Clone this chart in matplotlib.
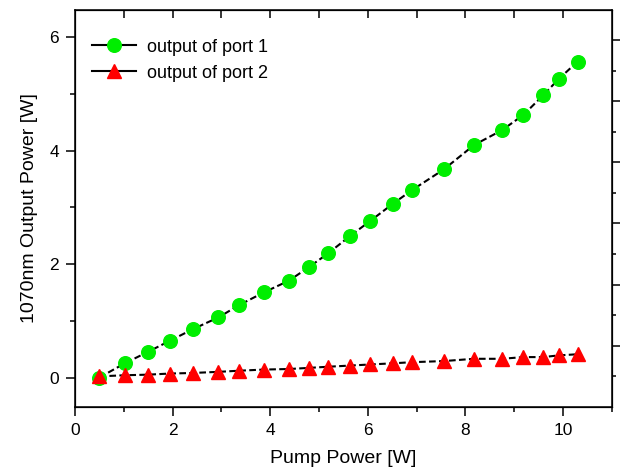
import numpy as np
import matplotlib
matplotlib.use("Agg")
import matplotlib.pyplot as plt

plt.rcParams['font.family'] = ['Liberation Sans', 'DejaVu Sans']

# pump power (W), same for both ports
pump = [0.50, 1.02, 1.49, 1.95, 2.41, 2.94, 3.37, 3.87, 4.39, 4.80, 5.19,
        5.63, 6.05, 6.51, 6.90, 7.56, 8.18, 8.75, 9.19, 9.60, 9.91, 10.30]
port1 = [0.00, 0.25, 0.45, 0.65, 0.85, 1.06, 1.28, 1.50, 1.71, 1.95, 2.19,
         2.49, 2.76, 3.06, 3.30, 3.67, 4.10, 4.36, 4.63, 4.98, 5.26, 5.57]
port2 = [0.02, 0.04, 0.05, 0.07, 0.08, 0.10, 0.12, 0.14, 0.15, 0.17, 0.19,
         0.21, 0.23, 0.25, 0.27, 0.29, 0.33, 0.33, 0.36, 0.36, 0.39, 0.41]
labels = ["output of port 1", "output of port 2"]

fig = plt.figure(figsize=(6.22, 4.69), dpi=100)
ax = fig.add_axes([75 / 622, 1 - 407 / 469, (611.7 - 75) / 622, (407 - 10) / 469])

dash = (0, (3.2, 1.6))
ax.plot(pump, port1, color='black', ls=dash, lw=1.5, zorder=2)
ax.plot(pump, port2, color='black', ls=dash, lw=1.5, zorder=2)
ax.plot(pump, port1, ls='none', marker='o', ms=9.8, mfc='#00ee00', mec='#00ee00', zorder=3)
ax.plot(pump, port2, ls='none', marker='^', ms=10.5, mfc='#ff0000', mec='#ff0000', zorder=4)

# legend handles: solid line + marker
h1, = ax.plot([], [], color='black', lw=1.5, marker='o', ms=9.8, mfc='#00ee00', mec='#00ee00')
h2, = ax.plot([], [], color='black', lw=1.5, marker='^', ms=10.5, mfc='#ff0000', mec='#ff0000')
ax.legend([h1, h2], labels, loc='upper left', bbox_to_anchor=(0.012, 0.955), frameon=False,
          fontsize=13, handlelength=2.4, handletextpad=0.65, labelspacing=0.5,
          borderaxespad=0.0, borderpad=0.6)

ax.set_xlim(0, 11)
ax.set_ylim(-0.52, 6.48)
ax.set_xticks(np.arange(0, 11, 2))
ax.set_xticks(np.arange(1, 12, 2), minor=True)
ax.set_yticks(np.arange(0, 7, 2))
ax.set_yticks(np.arange(1, 6, 2), minor=True)
ax.tick_params(which='major', direction='out', length=6.5, width=1.1, labelsize=12.5,
               top=False, right=False)
ax.tick_params(axis='y', which='major', pad=5)
ax.tick_params(axis='x', which='major', pad=5)
ax.tick_params(which='minor', direction='out', length=3.3, width=1.1, top=False, right=False)
ax.set_xlabel("Pump Power [W]", fontsize=14, labelpad=9)
ax.set_ylabel("1070nm Output Power [W]", fontsize=14, labelpad=8)
for s in ax.spines.values():
    s.set_linewidth(1.1)

# top axis: inward ticks every 1 W, no labels
axt = ax.twiny()
axt.set_xlim(0, 11)
axt.set_xticks(np.arange(1, 11, 1))
axt.tick_params(axis='x', direction='in', length=5.5, width=1.1, labeltop=False)

# right axis: unlabelled, outward ticks
axr = ax.twinx()
axr.set_ylim(-1.0, 5.49)
axr.set_yticks(np.arange(0, 6, 1))
axr.set_yticks(np.arange(-0.5, 5, 1), minor=True)
axr.tick_params(axis='y', which='major', direction='out', length=6, width=1.1, labelright=False)
axr.tick_params(axis='y', which='minor', direction='out', length=3, width=1.1)

fig.savefig("out.png", dpi=100)
